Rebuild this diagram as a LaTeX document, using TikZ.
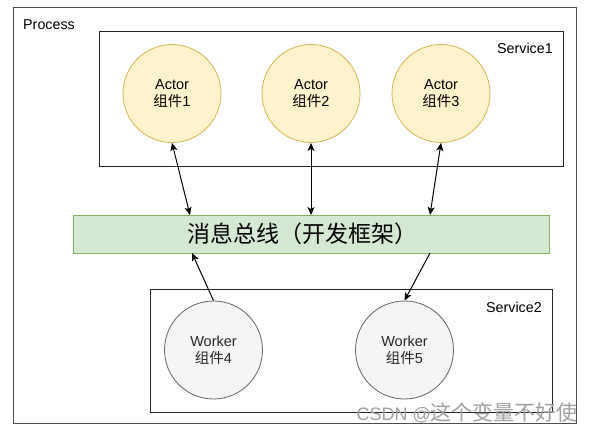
\documentclass[tikz,border=0pt]{standalone}
\usepackage{fontspec}
\setmainfont{Liberation Sans}
\newfontfamily\cjk{Noto Sans CJK SC}
\usetikzlibrary{arrows.meta}
\definecolor{actfill}{HTML}{FFF2CC}
\definecolor{actline}{HTML}{D6B656}
\definecolor{wrkfill}{HTML}{F5F5F5}
\definecolor{wrkline}{HTML}{666666}
\definecolor{busfill}{HTML}{D5E8D4}
\definecolor{busline}{HTML}{82B366}
\definecolor{outline}{HTML}{4D4D4D}
\definecolor{wmark}{HTML}{A0A0A0}
\tikzset{
  frame/.style={draw=#1, line width=1pt, rectangle, inner sep=0pt},
  actor/.style={circle, draw=actline, fill=actfill, line width=0.8pt, minimum size=98pt, inner sep=0pt, align=center, font=\fontsize{14.5}{17}\selectfont},
  worker/.style={circle, draw=wrkline, fill=wrkfill, line width=0.8pt, minimum size=98pt, inner sep=0pt, align=center, font=\fontsize{14.5}{17}\selectfont, text=black!85},
  lbl/.style={font=\fontsize{14.3}{16}\selectfont, inner sep=0pt},
  link/.style={line width=1pt, -{Stealth[length=8pt,width=7pt,inset=2pt]}},
  dlink/.style={line width=1pt, {Stealth[length=8pt,width=7pt,inset=2pt]}-{Stealth[length=8pt,width=7pt,inset=2pt]}}
}
\begin{document}
\begin{tikzpicture}[x=1pt,y=-1pt]
\useasboundingbox (0,0) rectangle (594,433);
\fill[white] (0,0) rectangle (594,433);
% frames
\node[frame=outline, minimum width=563pt, minimum height=415pt] (proc) at (294.5,215.5) {};
\node[lbl, anchor=west] (proclbl) at (23,25) {Process};
\node[frame=black!85, minimum width=464pt, minimum height=134pt] (svc1) at (331,99) {};
\node[lbl, anchor=east] (svc1lbl) at (553,48) {Service1};
\node[frame=black!85, minimum width=402pt, minimum height=123pt] (svc2) at (351,350.5) {};
\node[lbl, anchor=east] (svc2lbl) at (542,307) {Service2};
% bus
\node[rectangle, draw=busline, fill=busfill, line width=1pt, minimum width=476pt, minimum height=38pt, inner sep=0pt] (bus) at (311,234) {};
\node[font=\cjk\fontsize{23}{25}\selectfont, inner sep=0pt] (bustxt) at (302.5,234) {消息总线（开发框架）};
% actors
\node[actor] (a1) at (172,93.5) {Actor\\{\cjk 组件}1};
\node[actor] (a2) at (311,93.5) {Actor\\{\cjk 组件}2};
\node[actor] (a3) at (441,93.5) {Actor\\{\cjk 组件}3};
% workers
\node[worker] (w4) at (213.5,350) {Worker\\{\cjk 组件}4};
\node[worker] (w5) at (404.5,350) {Worker\\{\cjk 组件}5};
% bus attachment points
\coordinate (b1) at (190,215);
\coordinate (b2) at (311,215);
\coordinate (b3) at (430,215);
\coordinate (b4) at (192,253);
\coordinate (b5) at (430,253);
% connectors
\draw[dlink] (a1.south) -- (b1);
\draw[dlink] (a2.south) -- (b2);
\draw[dlink] (a3.south) -- (b3);
\draw[link] (w4.north) -- (b4);
\draw[link] (b5) -- (w5.north);
% watermark
\node[anchor=east, inner sep=0pt, text=wmark, font=\fontsize{18}{20}\selectfont] (wm) at (578,413) {CSDN @{\cjk\fontsize{21}{22}\selectfont 这个变量不好使}};
\end{tikzpicture}
\end{document}
